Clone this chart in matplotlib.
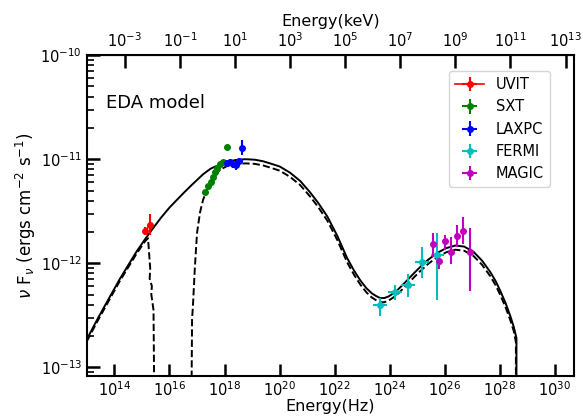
"""
Broadband SED with EDA model curves (log nu vs log nuFnu).
"""
import matplotlib
matplotlib.use("Agg")
import matplotlib.pyplot as plt
import numpy as np
from matplotlib.ticker import NullLocator, FixedLocator

# ── Data (log10 values) ───────────────────────────────────────────────────
# model, solid line
MODEL_LOGNU = [13.00, 13.40, 13.84, 14.20, 14.50, 14.80, 15.11, 15.40, 15.70,
               16.00, 16.31, 16.55, 16.80, 17.00, 17.22, 17.50, 17.84, 18.10,
               18.40, 18.75, 19.10, 19.40, 19.65, 20.00, 20.38, 20.75, 21.11,
               21.40, 21.73, 22.10, 22.45, 22.70, 22.93, 23.15, 23.35, 23.50,
               23.65, 23.80, 23.95, 24.10, 24.27, 24.50, 24.70, 24.90, 25.11,
               25.40, 25.73, 26.05, 26.38, 26.70, 27.04, 27.35, 27.65, 27.85,
               28.02, 28.20, 28.38, 28.50, 28.60, 28.60]
MODEL_LOGF = [-12.73, -12.53, -12.32, -12.15, -12.02, -11.89, -11.77, -11.665,
              -11.56, -11.465, -11.38, -11.315, -11.25, -11.20, -11.145, -11.09,
              -11.05, -11.025, -11.008, -11.00, -11.005, -11.02, -11.04, -11.07,
              -11.13, -11.21, -11.32, -11.42, -11.55, -11.74, -11.95, -12.07,
              -12.165, -12.24, -12.29, -12.315, -12.335, -12.335, -12.32, -12.295,
              -12.26, -12.20, -12.145, -12.09, -12.035, -11.965, -11.90, -11.855,
              -11.83, -11.84, -11.89, -11.975, -12.085, -12.175, -12.27, -12.38,
              -12.51, -12.61, -12.72, -14.00]

# absorbed model, dashed line (two branches)
ABS_LO_LOGNU = [13.00, 13.40, 13.84, 14.20, 14.50, 14.80, 15.11, 15.22, 15.30,
                15.28, 15.36, 15.34, 15.42, 15.47]
ABS_LO_LOGF = [-12.75, -12.55, -12.34, -12.17, -12.04, -11.91, -11.79, -11.76,
               -12.05, -12.15, -12.22, -12.30, -12.45, -14.00]
ABS_HI_LOGNU = [16.78, 16.82, 16.85, 16.92, 17.00, 17.11, 17.22, 17.40, 17.65,
                17.84, 18.10, 18.40, 18.75, 19.10, 19.40, 19.65, 20.00, 20.38,
                20.75, 21.11, 21.40, 21.73, 22.10, 22.45, 22.70, 22.93, 23.15,
                23.35, 23.50, 23.65, 23.80, 23.95, 24.10, 24.27, 24.50, 24.70,
                24.90, 25.11, 25.40, 25.73, 26.05, 26.38, 26.70, 27.04, 27.35,
                27.65, 27.85, 28.02, 28.20, 28.38, 28.50, 28.58, 28.58]
ABS_HI_LOGF = [-14.00, -12.54, -12.42, -12.05, -11.71, -11.51, -11.39, -11.27,
               -11.16, -11.10, -11.065, -11.048, -11.04, -11.045, -11.06, -11.08,
               -11.11, -11.17, -11.25, -11.36, -11.46, -11.59, -11.78, -11.99,
               -12.11, -12.205, -12.28, -12.33, -12.355, -12.375, -12.375, -12.36,
               -12.335, -12.30, -12.24, -12.185, -12.13, -12.075, -12.005, -11.94,
               -11.895, -11.87, -11.88, -11.93, -12.015, -12.125, -12.215, -12.31,
               -12.42, -12.55, -12.65, -12.76, -14.00]

# observations: log nu, log flux, log flux low/high, half-width in log nu
UVIT_LOGNU = [15.11, 15.29]
UVIT_LOGF = [-11.69, -11.63]
UVIT_LO = [-11.73, -11.73]
UVIT_HI = [-11.65, -11.53]
UVIT_DX = [0.05, 0.05]

SXT_LOGNU = [17.29, 17.40, 17.51, 17.58, 17.65, 17.73, 17.84, 17.95, 18.09]
SXT_LOGF = [-11.32, -11.26, -11.22, -11.17, -11.12, -11.08, -11.05, -11.03, -10.88]
SXT_LO = [-11.34, -11.28, -11.24, -11.19, -11.14, -11.10, -11.07, -11.05, -10.90]
SXT_HI = [-11.30, -11.24, -11.20, -11.15, -11.10, -11.06, -11.03, -11.01, -10.86]
SXT_DX = [0.04] * 9

LAXPC_LOGNU = [18.09, 18.20, 18.31, 18.42, 18.53, 18.64]
LAXPC_LOGF = [-11.04, -11.03, -11.05, -11.06, -11.02, -10.89]
LAXPC_LO = [-11.07, -11.06, -11.08, -11.10, -11.05, -10.96]
LAXPC_HI = [-11.01, -11.00, -11.02, -11.02, -10.99, -10.82]
LAXPC_DX = [0.05] * 6

FERMI_LOGNU = [23.65, 24.20, 24.67, 25.18, 25.73]
FERMI_LOGF = [-12.40, -12.28, -12.21, -11.99, -11.92]
FERMI_LO = [-12.51, -12.35, -12.32, -12.14, -12.35]
FERMI_HI = [-12.33, -12.21, -12.10, -11.84, -11.71]
FERMI_DX = [0.25, 0.25, 0.25, 0.25, 0.25]

MAGIC_LOGNU = [25.58, 25.80, 26.02, 26.24, 26.45, 26.67, 26.93]
MAGIC_LOGF = [-11.82, -11.98, -11.79, -11.89, -11.74, -11.69, -11.89]
MAGIC_LO = [-11.94, -12.06, -11.87, -12.01, -11.84, -11.82, -12.27]
MAGIC_HI = [-11.71, -11.92, -11.73, -11.75, -11.63, -11.56, -11.66]
MAGIC_DX = [0.03] * 7

KEV_TO_HZ = 2.418e17


def errbar(ax, lognu, logf, lo, hi, dx, color, label, fmt="o"):
    nu = 10 ** np.array(lognu)
    f = 10 ** np.array(logf)
    yerr = [f - 10 ** np.array(lo), 10 ** np.array(hi) - f]
    xerr = [nu - 10 ** (np.array(lognu) - dx), 10 ** (np.array(lognu) + dx) - nu]
    ax.errorbar(nu, f, yerr=yerr, xerr=xerr, fmt=fmt, color=color, ms=4,
                elinewidth=1.5, lw=1.2, label=label)


plt.rcParams["font.family"] = "DejaVu Sans"
fig = plt.figure(figsize=(5.83, 4.18), dpi=100)
ax = fig.add_axes([0.149, 0.100, 0.836, 0.768])

ax.plot(10 ** np.array(MODEL_LOGNU), 10 ** np.array(MODEL_LOGF), "k-", lw=1.4)
ax.plot(10 ** np.array(ABS_LO_LOGNU), 10 ** np.array(ABS_LO_LOGF), "k--", lw=1.4)
ax.plot(10 ** np.array(ABS_HI_LOGNU), 10 ** np.array(ABS_HI_LOGF), "k--", lw=1.4)

errbar(ax, UVIT_LOGNU, UVIT_LOGF, UVIT_LO, UVIT_HI, UVIT_DX, "r", "UVIT", fmt="o-")
errbar(ax, SXT_LOGNU, SXT_LOGF, SXT_LO, SXT_HI, SXT_DX, "g", "SXT")
errbar(ax, LAXPC_LOGNU, LAXPC_LOGF, LAXPC_LO, LAXPC_HI, LAXPC_DX, "b", "LAXPC")
errbar(ax, FERMI_LOGNU, FERMI_LOGF, FERMI_LO, FERMI_HI, FERMI_DX, "c", "FERMI")
errbar(ax, MAGIC_LOGNU, MAGIC_LOGF, MAGIC_LO, MAGIC_HI, MAGIC_DX, "m", "MAGIC")

ax.set_xscale("log")
ax.set_yscale("log")
ax.set_xlim(1e13, 5e30)
ax.set_ylim(8.2e-14, 1e-10)

ax.xaxis.set_major_locator(FixedLocator([10.0 ** k for k in range(14, 31, 2)]))
ax.xaxis.set_minor_locator(NullLocator())
ax.tick_params(axis="both", which="major", direction="in", length=9, width=1.8,
               labelsize=10.5, top=False, right=False)
ax.tick_params(axis="x", which="major", pad=3)
ax.tick_params(axis="y", which="minor", direction="in", length=5, width=1.2,
               right=False)
for sp in ax.spines.values():
    sp.set_linewidth(1.5)

ax.set_xlabel("Energy(Hz)", fontsize=11.5, labelpad=0)
ax.set_ylabel(r"$\nu$ F$_{\nu}$ (ergs cm$^{-2}$ s$^{-1}$)", fontsize=12,
              labelpad=2)

top = ax.secondary_xaxis("top", functions=(lambda x: x / KEV_TO_HZ,
                                           lambda x: x * KEV_TO_HZ))
top.xaxis.set_major_locator(FixedLocator([10.0 ** k for k in range(-3, 14, 2)]))
top.xaxis.set_minor_locator(NullLocator())
top.tick_params(which="major", direction="in", length=9, width=1.8,
                labelsize=10.5)
top.set_xlabel("Energy(keV)", fontsize=11.5)

ax.text(0.04, 0.85, "EDA model", transform=ax.transAxes, fontsize=13,
        va="center")

ax.legend(loc="upper right", bbox_to_anchor=(0.95, 0.95), fontsize=10.5,
          handlelength=2.0, borderaxespad=0.0)

fig.savefig("out.png", dpi=100)
